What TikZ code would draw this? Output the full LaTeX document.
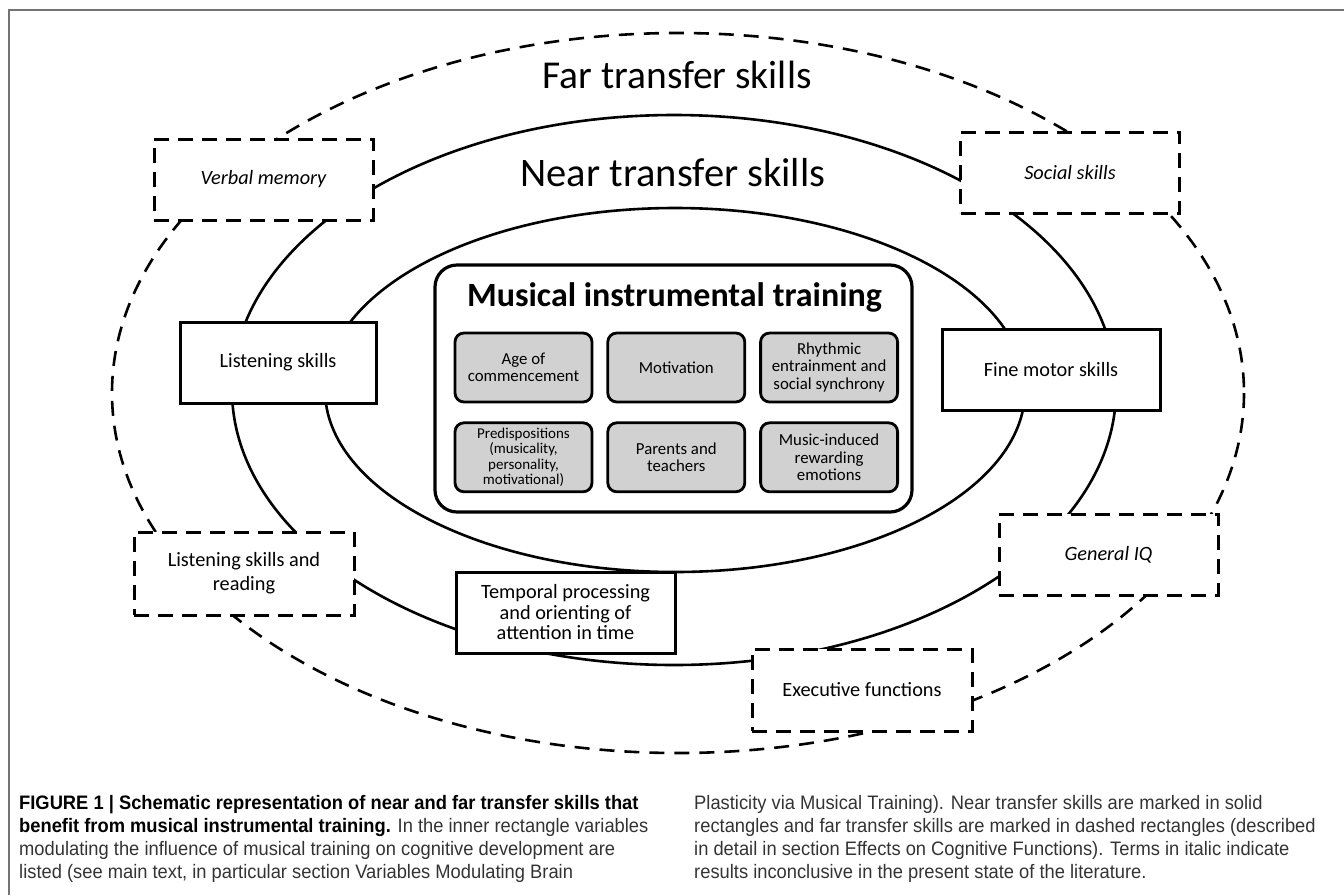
\documentclass[tikz,border=0pt]{standalone}
\usepackage{fontspec}
\setmainfont{Carlito}
\newfontfamily\capfont[FakeStretch=0.94]{Liberation Sans}
\usetikzlibrary{positioning}

\tikzset{
  skill/.style={draw, line width=3pt, fill=white, inner sep=0pt, align=center,
    minimum width=219pt, minimum height=81pt, font=\fontsize{20.3}{24}\selectfont},
  farskill/.style={skill, dash pattern=on 15pt off 9pt},
  factor/.style={draw, line width=2.8pt, rounded corners=9pt, fill=black!18, inner sep=0pt,
    minimum width=137pt, minimum height=69pt, align=center, font=\fontsize{16.8}{17.5}\selectfont},
  ring/.style={line width=2.6pt},
  captext/.style={anchor=north west, align=left, inner sep=0pt, text=black!80,
    font=\capfont\fontsize{19.5}{23}\selectfont}
}

\begin{document}
\begin{tikzpicture}[x=1pt, y=-1pt]
    \useasboundingbox (0,0) rectangle (1344,895);
    \draw[black!55, line width=2pt] (8.5,895) -- (8.5,10) -- (1344,10);

    % far, near and inner rings
    \draw[ring, dash pattern=on 15pt off 10pt] (678,393) ellipse [x radius=566, y radius=360];
    \draw[ring] (674,390) ellipse [x radius=442, y radius=275];
    \draw[ring] (675,390) ellipse [x radius=350, y radius=182];

    \node[font=\fontsize{39.5}{44}\selectfont] (farlabel) at (677,75) {Far transfer skills};
    \node[font=\fontsize{40.5}{44}\selectfont] (nearlabel) at (673,173) {Near transfer skills};

    % musical training
    \node[draw, line width=3.2pt, rounded corners=22pt, fill=white,
      minimum width=477pt, minimum height=247pt] (training) at (673.5,388.5) {};
    \node[font=\bfseries\fontsize{34}{40}\selectfont] (traininglabel) at (674.5,297) {Musical instrumental training};

    \node[factor] (age) at (523.5,367.5) {Age of\\commencement};
    \node[factor, right=13pt of age] (motivation) {Motivation};
    \node[factor, right=13pt of motivation] (rhythm) {Rhythmic\\entrainment and\\social synchrony};
    \node[factor, below=18pt of age, font=\fontsize{15}{15.6}\selectfont] (predisp) {Predispositions\\(musicality,\\personality,\\motivational)};
    \node[factor, right=13pt of predisp] (parents) {Parents and\\teachers};
    \node[factor, right=13pt of parents] (reward) {Music-induced\\rewarding\\emotions};

    % near transfer
    \node[skill, minimum width=196pt] (listening) at (278,362.5) {Listening skills};
    \node[skill, minimum width=218pt] (finemotor) at (1051,369.5) {Fine motor skills};
    \node[skill, font=\fontsize{20.3}{20.5}\selectfont] (temporal) at (565.5,612.5) {Temporal processing\\and orienting of\\attention in time};

    % far transfer
    \node[farskill, font=\itshape\fontsize{20.3}{24}\selectfont] (verbal) at (263.5,179.5) {Verbal memory};
    \node[farskill, font=\itshape\fontsize{20.3}{24}\selectfont] (social) at (1070,172.5) {Social skills};
    \node[farskill, minimum width=220pt, minimum height=83pt] (reading) at (244,573.5) {Listening skills and\\reading};
    \node[farskill, font=\itshape\fontsize{20.3}{24}\selectfont] (iq) at (1108.5,554.5) {General IQ};
    \node[farskill, minimum width=220pt, minimum height=82pt] (executive) at (862,690) {Executive functions};

    % caption
    \node[captext] (capleft) at (19,795) {\textbf{\color{black}FIGURE 1 | Schematic representation of near and far transfer skills that}\\
      \textbf{\color{black}benefit from musical instrumental training.} In the inner rectangle variables\\
      modulating the influence of musical training on cognitive development are\\
      listed (see main text, in particular section Variables Modulating Brain};
    \node[captext] (capright) at (694,795) {Plasticity via Musical Training). Near transfer skills are marked in solid\\
      rectangles and far transfer skills are marked in dashed rectangles (described\\
      in detail in section Effects on Cognitive Functions). Terms in italic indicate\\
      results inconclusive in the present state of the literature.};
\end{tikzpicture}
\end{document}
